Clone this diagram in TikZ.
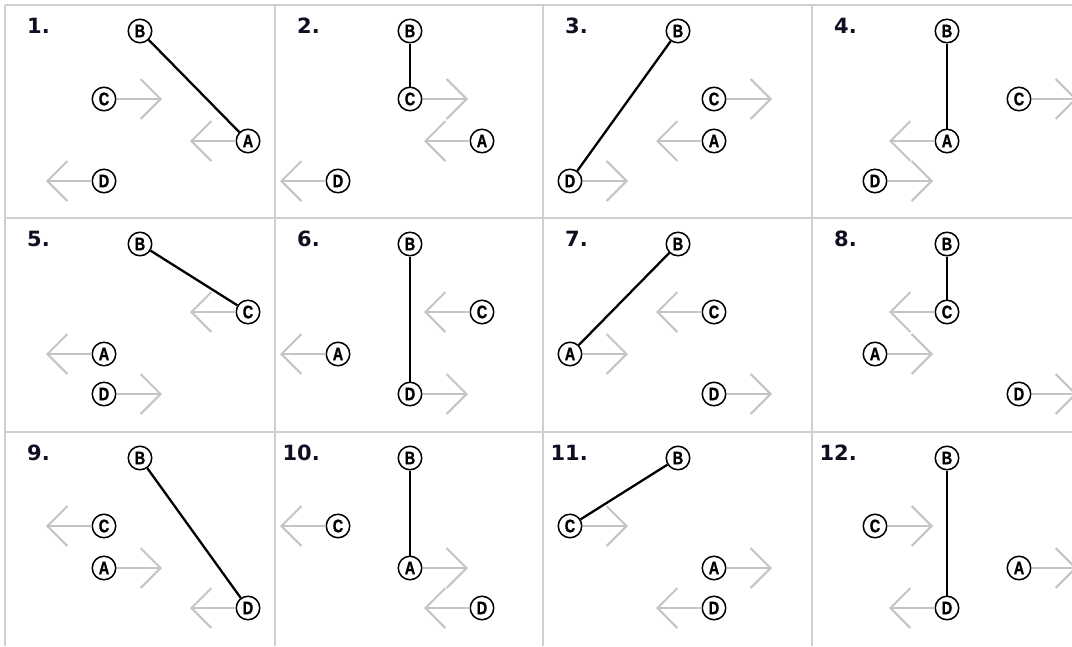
\documentclass[tikz,border=0pt]{standalone}
\usepackage{fontspec}
\usetikzlibrary{arrows.meta}
\newfontfamily\labfont{DejaVu Sans}
\newfontfamily\circfont[FakeStretch=0.8,BoldFeatures={FakeBold=1.2}]{Liberation Sans}
\definecolor{gridgray}{RGB}{208,208,208}
\definecolor{argray}{RGB}{196,196,196}
\definecolor{labcol}{RGB}{15,15,35}
\newcommand\ptnode[5]{%
  \node[ptc] (#1) at ({27+36*#3},#4) {#2};
  \path (#1) ++(#5,0) coordinate (#1t);
  \draw[gar] (#1) -- (#1t);}
\newcommand\topnode[1]{\node[ptc] (#1) at (135,26) {B};}
\begin{document}
\begin{tikzpicture}[x=1pt,y=-1pt,
  ptc/.style={circle,draw=black,line width=1.5pt,minimum size=23.5pt,inner sep=0pt,fill=white,
    font=\circfont\bfseries\fontsize{18}{18}\selectfont},
  gar/.style={draw=argray,line width=2pt,-{Straight Barb[length=20pt,width=40pt]}},
  blk/.style={draw=black,line width=2.3pt},
  gridl/.style={draw=gridgray,line width=2pt},
  lab/.style={anchor=base east,inner sep=0pt,text=labcol,font=\labfont\bfseries\fontsize{21}{21}\selectfont}]
\useasboundingbox (0,0) rectangle (1072,646);
\clip (0,0) rectangle (1072,646);
% grid
\draw[gridl] (5,5) -- (1072,5);
\draw[gridl] (5,218) -- (1072,218);
\draw[gridl] (5,432) -- (1072,432);
\draw[gridl] (5,5) -- (5,646);
\draw[gridl] (275,5) -- (275,646);
\draw[gridl] (543,5) -- (543,646);
\draw[gridl] (812,5) -- (812,646);
% cell 1
\begin{scope}[shift={(5,5)}]
  \node[lab] (L1) at (45,28) {1.};
  \topnode{n1B}
  \ptnode{n1C}{C}{2}{94}{58}
  \ptnode{n1A}{A}{6}{136}{-58}
  \ptnode{n1D}{D}{2}{176}{-58}
  \draw[blk] (n1B) -- (n1A);
\end{scope}
% cell 2
\begin{scope}[shift={(275,5)}]
  \node[lab] (L2) at (45,28) {2.};
  \topnode{n2B}
  \ptnode{n2C}{C}{3}{94}{58}
  \ptnode{n2A}{A}{5}{136}{-58}
  \ptnode{n2D}{D}{1}{176}{-58}
  \draw[blk] (n2B) -- (n2C);
\end{scope}
% cell 3
\begin{scope}[shift={(543,5)}]
  \node[lab] (L3) at (45,28) {3.};
  \topnode{n3B}
  \ptnode{n3C}{C}{4}{94}{58}
  \ptnode{n3A}{A}{4}{136}{-58}
  \ptnode{n3D}{D}{0}{176}{58}
  \draw[blk] (n3B) -- (n3D);
\end{scope}
% cell 4
\begin{scope}[shift={(812,5)}]
  \node[lab] (L4) at (45,28) {4.};
  \topnode{n4B}
  \ptnode{n4C}{C}{5}{94}{58}
  \ptnode{n4A}{A}{3}{136}{-58}
  \ptnode{n4D}{D}{1}{176}{58}
  \draw[blk] (n4B) -- (n4A);
\end{scope}
% cell 5
\begin{scope}[shift={(5,218)}]
  \node[lab] (L5) at (45,28) {5.};
  \topnode{n5B}
  \ptnode{n5C}{C}{6}{94}{-58}
  \ptnode{n5A}{A}{2}{136}{-58}
  \ptnode{n5D}{D}{2}{176}{58}
  \draw[blk] (n5B) -- (n5C);
\end{scope}
% cell 6
\begin{scope}[shift={(275,218)}]
  \node[lab] (L6) at (45,28) {6.};
  \topnode{n6B}
  \ptnode{n6C}{C}{5}{94}{-58}
  \ptnode{n6A}{A}{1}{136}{-58}
  \ptnode{n6D}{D}{3}{176}{58}
  \draw[blk] (n6B) -- (n6D);
\end{scope}
% cell 7
\begin{scope}[shift={(543,218)}]
  \node[lab] (L7) at (45,28) {7.};
  \topnode{n7B}
  \ptnode{n7C}{C}{4}{94}{-58}
  \ptnode{n7A}{A}{0}{136}{58}
  \ptnode{n7D}{D}{4}{176}{58}
  \draw[blk] (n7B) -- (n7A);
\end{scope}
% cell 8
\begin{scope}[shift={(812,218)}]
  \node[lab] (L8) at (45,28) {8.};
  \topnode{n8B}
  \ptnode{n8C}{C}{3}{94}{-58}
  \ptnode{n8A}{A}{1}{136}{58}
  \ptnode{n8D}{D}{5}{176}{58}
  \draw[blk] (n8B) -- (n8C);
\end{scope}
% cell 9
\begin{scope}[shift={(5,432)}]
  \node[lab] (L9) at (45,28) {9.};
  \topnode{n9B}
  \ptnode{n9C}{C}{2}{94}{-58}
  \ptnode{n9A}{A}{2}{136}{58}
  \ptnode{n9D}{D}{6}{176}{-58}
  \draw[blk] (n9B) -- (n9D);
\end{scope}
% cell 10
\begin{scope}[shift={(275,432)}]
  \node[lab] (L10) at (45,28) {10.};
  \topnode{n10B}
  \ptnode{n10C}{C}{1}{94}{-58}
  \ptnode{n10A}{A}{3}{136}{58}
  \ptnode{n10D}{D}{5}{176}{-58}
  \draw[blk] (n10B) -- (n10A);
\end{scope}
% cell 11
\begin{scope}[shift={(543,432)}]
  \node[lab] (L11) at (45,28) {11.};
  \topnode{n11B}
  \ptnode{n11C}{C}{0}{94}{58}
  \ptnode{n11A}{A}{4}{136}{58}
  \ptnode{n11D}{D}{4}{176}{-58}
  \draw[blk] (n11B) -- (n11C);
\end{scope}
% cell 12
\begin{scope}[shift={(812,432)}]
  \node[lab] (L12) at (45,28) {12.};
  \topnode{n12B}
  \ptnode{n12C}{C}{1}{94}{58}
  \ptnode{n12A}{A}{5}{136}{58}
  \ptnode{n12D}{D}{3}{176}{-58}
  \draw[blk] (n12B) -- (n12D);
\end{scope}
\end{tikzpicture}
\end{document}
